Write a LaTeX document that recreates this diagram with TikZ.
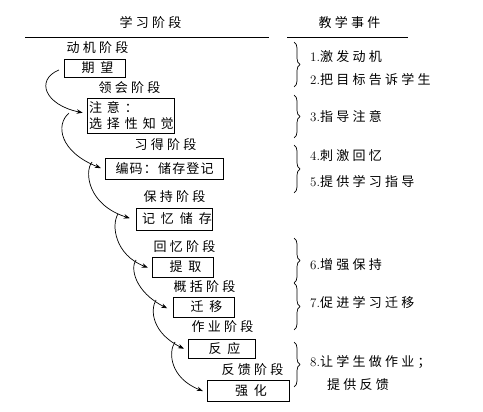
\documentclass[tikz,border=0pt]{standalone}
\usepackage{fontspec}
\usetikzlibrary{arrows.meta,decorations.pathreplacing}
\newfontfamily\cjkA{Noto Sans CJK SC}[LetterSpace=25]
\newfontfamily\cjkB{Noto Sans CJK SC}[LetterSpace=46]
\newfontfamily\cjkC{Noto Sans CJK SC}[LetterSpace=9]
\newfontfamily\cjkD{Noto Sans CJK SC}[LetterSpace=38]
\newcommand\bxtext[1]{\kern6pt #1}
\newcommand\lbtext[1]{\kern3.2pt #1}
\begin{document}
\begin{tikzpicture}[x=1pt,y=-1pt,
  lbl/.style={inner sep=0pt,font=\fontsize{13}{15}\cjkA},
  evt/.style={inner sep=0pt,anchor=west,font=\fontsize{13}{15}\cjkA},
  stagebox/.style={draw,line width=0.9pt,inner sep=0pt},
  flow/.style={line width=0.7pt,-{Stealth[length=6pt,width=4.5pt]}},
  brc/.style={line width=0.7pt,decorate,decoration={brace,amplitude=6pt}},
  rule/.style={line width=0.9pt}]
\useasboundingbox (0,0) rectangle (483,412);
% headers
\node[lbl] (h1) at (149,23) {\lbtext{学习阶段}};
\node[lbl] (h2) at (348,23) {\lbtext{教学事件}};
\coordinate (r1a) at (25,37);  \coordinate (r1b) at (269,37);
\coordinate (r2a) at (287,37); \coordinate (r2b) at (408,37);
\draw[rule] (r1a) -- (r1b);
\draw[rule] (r2a) -- (r2b);
% stage labels
\node[lbl] (l1) at (96,48) {\lbtext{动机阶段}};
\node[lbl] (l2) at (128,88) {\lbtext{领会阶段}};
\node[lbl] (l3) at (164,145) {\lbtext{习得阶段}};
\node[lbl] (l4) at (173,197) {\lbtext{保持阶段}};
\node[lbl] (l5) at (183,247) {\lbtext{回忆阶段}};
\node[lbl] (l6) at (203,287) {\lbtext{概括阶段}};
\node[lbl] (l7) at (221,327) {\lbtext{作业阶段}};
\node[lbl] (l8) at (251,370) {\lbtext{反馈阶段}};
% boxes
\node[stagebox,minimum width=61pt,minimum height=18pt,font=\fontsize{13}{15}\cjkB] (b1) at (94.5,68) {\bxtext{期望}};
\node[stagebox,minimum width=87pt,minimum height=35pt,text width=83pt,align=left,font=\fontsize{13}{16}\cjkD] (b2) at (130.5,115.5) {注意：\\选择性知觉};
\node[stagebox,minimum width=118pt,minimum height=21pt,font=\fontsize{13}{15}\cjkC] (b3) at (164,168.5) {\kern1.2pt 编码：储存登记};
\node[stagebox,minimum width=76pt,minimum height=22pt,font=\fontsize{13}{15}\cjkB] (b4) at (174,219) {\bxtext{记忆储存}};
\node[stagebox,minimum width=61pt,minimum height=20pt,font=\fontsize{13}{15}\cjkB] (b5) at (182.5,267) {\bxtext{提取}};
\node[stagebox,minimum width=61pt,minimum height=20pt,font=\fontsize{13}{15}\cjkB] (b6) at (203.5,307) {\bxtext{迁移}};
\node[stagebox,minimum width=67pt,minimum height=19pt,font=\fontsize{13}{15}\cjkB] (b7) at (221.5,348.5) {\bxtext{反应}};
\node[stagebox,minimum width=82pt,minimum height=21pt,font=\fontsize{13}{15}\cjkB] (b8) at (248,390.5) {\bxtext{强化}};
% arrow start points on previous arrows
\coordinate (s2) at (69,113);
\coordinate (s3) at (92,162);
\coordinate (s4) at (118,214);
\coordinate (s5) at (136,260);
\coordinate (s6) at (156,300);
\coordinate (s7) at (175,342);
\draw[flow,shorten <=5pt,shorten >=4pt] (b1.west) .. controls (35,80) and (45,105) .. ([yshift=2pt]b2.west);
\draw[flow,shorten >=4pt] (s2) .. controls (55,125) and (60,152) .. ([yshift=-1pt]b3.west);
\draw[flow,shorten >=6pt] (s3) .. controls (84,172) and (88,205) .. ([yshift=-1pt]b4.west);
\draw[flow,shorten >=4pt] (s4) .. controls (111,225) and (115,255) .. ([yshift=-2pt]b5.west);
\draw[flow,shorten >=6pt] (s5) .. controls (130,268) and (135,292) .. ([yshift=-4pt]b6.west);
\draw[flow,shorten >=4pt] (s6) .. controls (150,310) and (152,333) .. ([yshift=-2pt]b7.west);
\draw[flow,shorten >=4pt] (s7) .. controls (168,352) and (170,378) .. ([yshift=-2pt]b8.west);
% events
\node[evt] (e1) at (310,57) {\rmfamily 1.\cjkA 激发动机};
\node[evt] (e2) at (310,80) {\rmfamily 2.\cjkA 把目标告诉学生};
\node[evt] (e3) at (310,117) {\rmfamily 3.\cjkA 指导注意};
\node[evt] (e4) at (310,156) {\rmfamily 4.\cjkA 刺激回忆};
\node[evt] (e5) at (310,182) {\rmfamily 5.\cjkA 提供学习指导};
\node[evt] (e6) at (310,265) {\rmfamily 6.\cjkA 增强保持};
\node[evt] (e7) at (310,303) {\rmfamily 7.\cjkA 促进学习迁移};
\node[evt] (e8) at (310,362) {\rmfamily 8.\cjkA 让学生做作业；};
\node[evt] (e9) at (327,385) {提供反馈};
% braces
\coordinate (c1a) at (294,42);  \coordinate (c1b) at (294,87);
\coordinate (c2a) at (294,95);  \coordinate (c2b) at (294,138);
\coordinate (c3a) at (294,145); \coordinate (c3b) at (294,193);
\coordinate (c4a) at (294,238); \coordinate (c4b) at (294,283);
\coordinate (c5a) at (294,283); \coordinate (c5b) at (294,330);
\coordinate (c6a) at (294,342); \coordinate (c6b) at (294,387);
\draw[brc] (c1a) -- (c1b);
\draw[brc] (c2a) -- (c2b);
\draw[brc] (c3a) -- (c3b);
\draw[brc] (c4a) -- (c4b);
\draw[brc] (c5a) -- (c5b);
\draw[brc] (c6a) -- (c6b);
\end{tikzpicture}
\end{document}
